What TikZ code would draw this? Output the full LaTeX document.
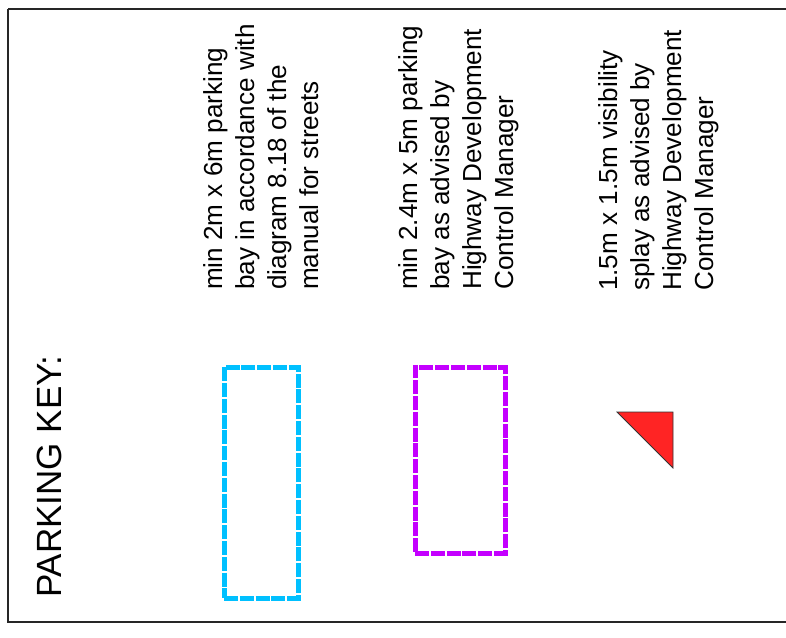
\documentclass[tikz,border=0pt]{standalone}
\usepackage{fontspec}
\setmainfont{Liberation Sans}
\definecolor{baycyan}{RGB}{0,192,255}
\definecolor{baypurple}{RGB}{196,0,255}
\definecolor{splayred}{RGB}{255,36,36}
\tikzset{
  keytext/.style={rotate=90, anchor=north west, inner sep=0pt, align=left,
    font=\fontsize{26.1}{32}\selectfont},
  titletext/.style={rotate=90, anchor=north west, inner sep=0pt,
    font=\fontsize{35}{40}\selectfont},
  baybox/.style={draw=#1, line width=5pt, dash pattern=on 14pt off 1.8pt,
    inner sep=0pt, fill=none},
  frameline/.style={draw=black!85, line width=#1},
}
\begin{document}
\begin{tikzpicture}[x=1pt,y=-1pt]
\useasboundingbox (0,0) rectangle (786,637);
% frame
\coordinate (tl) at (8,9);
\coordinate (tr) at (786,9);
\coordinate (bl) at (8,622);
\coordinate (br) at (786,622);
\draw[frameline=2pt] (tl) -- (tr);
\draw[frameline=1.2pt] (tl) -- (bl) -- (br);
% title
\node[titletext] (title) at (37,598) {PARKING KEY:};
% key items
\node[baybox=baycyan, minimum width=74pt, minimum height=231pt] (bayA) at (261,482.5) {};
\node[baybox=baypurple, minimum width=90pt, minimum height=186pt] (bayB) at (460,460) {};
\coordinate (s1) at (617,412);
\coordinate (s2) at (673,412);
\coordinate (s3) at (673,468);
\filldraw[fill=splayred, draw=black!80, line width=0.8pt] (s1) -- (s2) -- (s3) -- cycle;
% texts
\node[keytext] (textA) at (203,290) {min 2m x 6m parking\\bay in accordance with\\diagram 8.18 of the\\manual for streets};
\node[keytext] (textB) at (398,290) {min 2.4m x 5m parking\\bay as advised by\\Highway Development\\Control Manager};
\node[keytext] (textC) at (598,291) {1.5m x 1.5m visibility\\splay as advised by\\Highway Development\\Control Manager};
\end{tikzpicture}
\end{document}
